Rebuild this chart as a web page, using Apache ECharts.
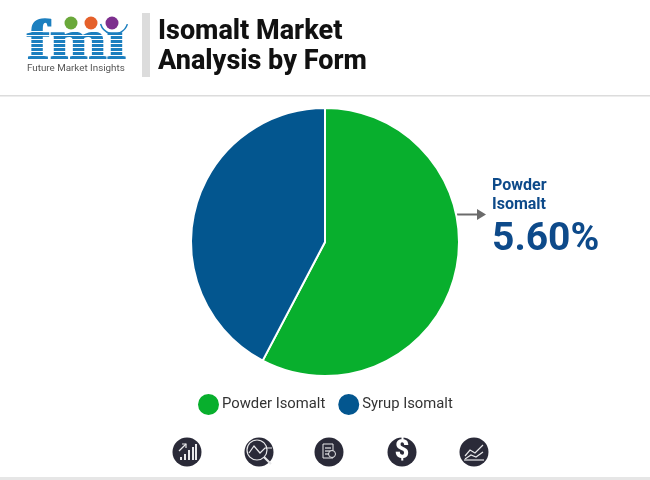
<!DOCTYPE html>
<html>
<head>
<meta charset="utf-8">
<style>
  html, body { margin: 0; padding: 0; background: #fff; }
  #chart { width: 650px; height: 480px; }
</style>
<script src="https://cdn.jsdelivr.net/npm/echarts@6/dist/echarts.min.js"></script>
</head>
<body>
<div id="chart"></div>
<script>
// values
var categories = ['Powder Isomalt', 'Syrup Isomalt'];
var shares = [57.7, 42.3];
var colors = ['#08af2d', '#03568f'];
var titleLines = ['Isomalt Market', 'Analysis by Form'];
var calloutName = ['Powder', 'Isomalt'];
var calloutValue = '5.60%';

var ink = '#2a2a38';
var blue = '#1c7fbf';

// logo: letters with white stripes across them
var logo = [
  { type: 'text', x: 27, y: 15, scaleX: 1.18, style: { x: 0, y: 0, text: 'fmi', fill: blue, stroke: blue, lineWidth: 1.5, font: '900 58px "Liberation Serif"' } },
  // hides the dot of the i, the purple circle stands in for it
  { type: 'rect', shape: { x: 100, y: 12, width: 30, height: 19 }, style: { fill: '#fff' } },
  { type: 'circle', shape: { cx: 71, cy: 23, r: 6.5 }, style: { fill: '#6aa83a' } },
  { type: 'circle', shape: { cx: 91, cy: 23, r: 6.5 }, style: { fill: '#e5602a' } },
  { type: 'circle', shape: { cx: 112, cy: 23, r: 6.5 }, style: { fill: '#7d2f8e' } },
  { type: 'arc', shape: { cx: 114, cy: 20, r: 14, startAngle: 0.3, endAngle: 2.85 }, style: { stroke: blue, lineWidth: 1.5, fill: 'none' } },
  { type: 'text', style: { x: 27, y: 64, text: 'Future Market Insights', fill: '#555', font: '9.8px "Roboto"' } }
];
[31, 35, 39, 43, 47, 51, 55, 59].forEach(function (y) {
  logo.splice(1, 0, { type: 'rect', shape: { x: 24, y: y, width: 105, height: 1 }, style: { fill: '#fff' } });
});

// small line drawings inside the round icons
function iconBase(cx) {
  return { type: 'circle', shape: { cx: cx, cy: 452, r: 14.5 }, style: { fill: ink } };
}
function stroke(points) {
  return { type: 'polyline', shape: { points: points }, style: { stroke: '#e8e8ea', lineWidth: 1.2, fill: 'none' } };
}
var icons = [iconBase(187), iconBase(259), iconBase(329), iconBase(402), iconBase(474)];
[[180, 3], [184, 6], [188, 10], [192, 13], [195, 16]].forEach(function (b) {
  icons.push({ type: 'rect', shape: { x: b[0], y: 460 - b[1], width: 2, height: b[1] }, style: { fill: '#e8e8ea' } });
});
icons.push(stroke([[179, 451], [186, 444]]), stroke([[182, 444], [186, 444], [186, 448]]));
icons.push({ type: 'circle', shape: { cx: 257, cy: 450, r: 10 }, style: { fill: ink, stroke: '#e8e8ea', lineWidth: 1.2 } });
icons.push(stroke([[249, 453], [254, 446], [260, 453], [265, 448], [272, 448]]));
icons.push({ type: 'line', shape: { x1: 264, y1: 457, x2: 271, y2: 464 }, style: { stroke: '#e8e8ea', lineWidth: 2.2 } });
icons.push({ type: 'rect', shape: { x: 323, y: 444, width: 10, height: 14 }, style: { fill: 'none', stroke: '#e8e8ea', lineWidth: 1 } });
icons.push(stroke([[325, 448], [331, 448]]), stroke([[325, 451], [331, 451]]), stroke([[325, 454], [331, 454]]));
icons.push({ type: 'circle', shape: { cx: 332, cy: 454, r: 3.5 }, style: { fill: ink, stroke: '#e8e8ea', lineWidth: 1 } });
icons.push({ type: 'text', style: { x: 402, y: 452, text: '$', fill: '#fff', font: '900 25px "Roboto"', align: 'center', verticalAlign: 'middle' } });
icons.push(stroke([[465, 456], [470, 450], [475, 453], [483, 445]]), stroke([[465, 459], [471, 455], [476, 457], [483, 452]]), stroke([[464, 460], [484, 460]]));

var chart = echarts.init(document.getElementById('chart'), null, { renderer: 'canvas' });
chart.setOption({
  animation: false,
  backgroundColor: '#fff',
  color: colors,
  legend: {
    data: categories,
    left: 196,
    top: 392,
    padding: 0,
    icon: 'circle',
    itemWidth: 23,
    itemHeight: 23,
    itemGap: 11,
    textStyle: { fontFamily: 'Roboto', fontSize: 14.8, color: '#333', padding: [0, 0, 0, -3] }
  },
  series: [{
    type: 'pie',
    center: [325, 242],
    radius: [0, 134],
    startAngle: 90,
    clockwise: true,
    label: { show: false },
    labelLine: { show: false },
    itemStyle: { borderColor: '#fff', borderWidth: 2 },
    data: categories.map(function (name, i) {
      return { name: name, value: shares[i] };
    })
  }],
  graphic: logo.concat(icons).concat([
    { type: 'rect', shape: { x: 142, y: 13, width: 8, height: 64 }, style: { fill: '#dcdcdc' } },
    { type: 'text', style: { x: 158, y: 19, text: titleLines[0], fill: '#111', font: '800 27px "Roboto"' } },
    { type: 'text', style: { x: 158, y: 49, text: titleLines[1], fill: '#111', font: '800 27px "Roboto"' } },
    { type: 'rect', shape: { x: 0, y: 95, width: 650, height: 1.5 }, style: { fill: '#dcdcdc' } },
    { type: 'rect', shape: { x: 0, y: 477, width: 650, height: 3 }, style: { fill: '#e6e6e6' } },
    { type: 'line', shape: { x1: 457, y1: 214.5, x2: 478, y2: 214.5 }, style: { stroke: '#6b6b6b', lineWidth: 2 } },
    { type: 'polygon', shape: { points: [[477, 209], [486, 214.5], [477, 220]] }, style: { fill: '#6b6b6b' } },
    { type: 'text', style: { x: 492, y: 178, text: calloutName[0], fill: '#0d4a8a', font: '700 16px "Roboto"' } },
    { type: 'text', style: { x: 492, y: 197, text: calloutName[1], fill: '#0d4a8a', font: '700 16px "Roboto"' } },
    { type: 'text', style: { x: 492, y: 221, text: calloutValue, fill: '#0d4a8a', font: '700 39px "Roboto"' } }
  ])
});
</script>
</body>
</html>
